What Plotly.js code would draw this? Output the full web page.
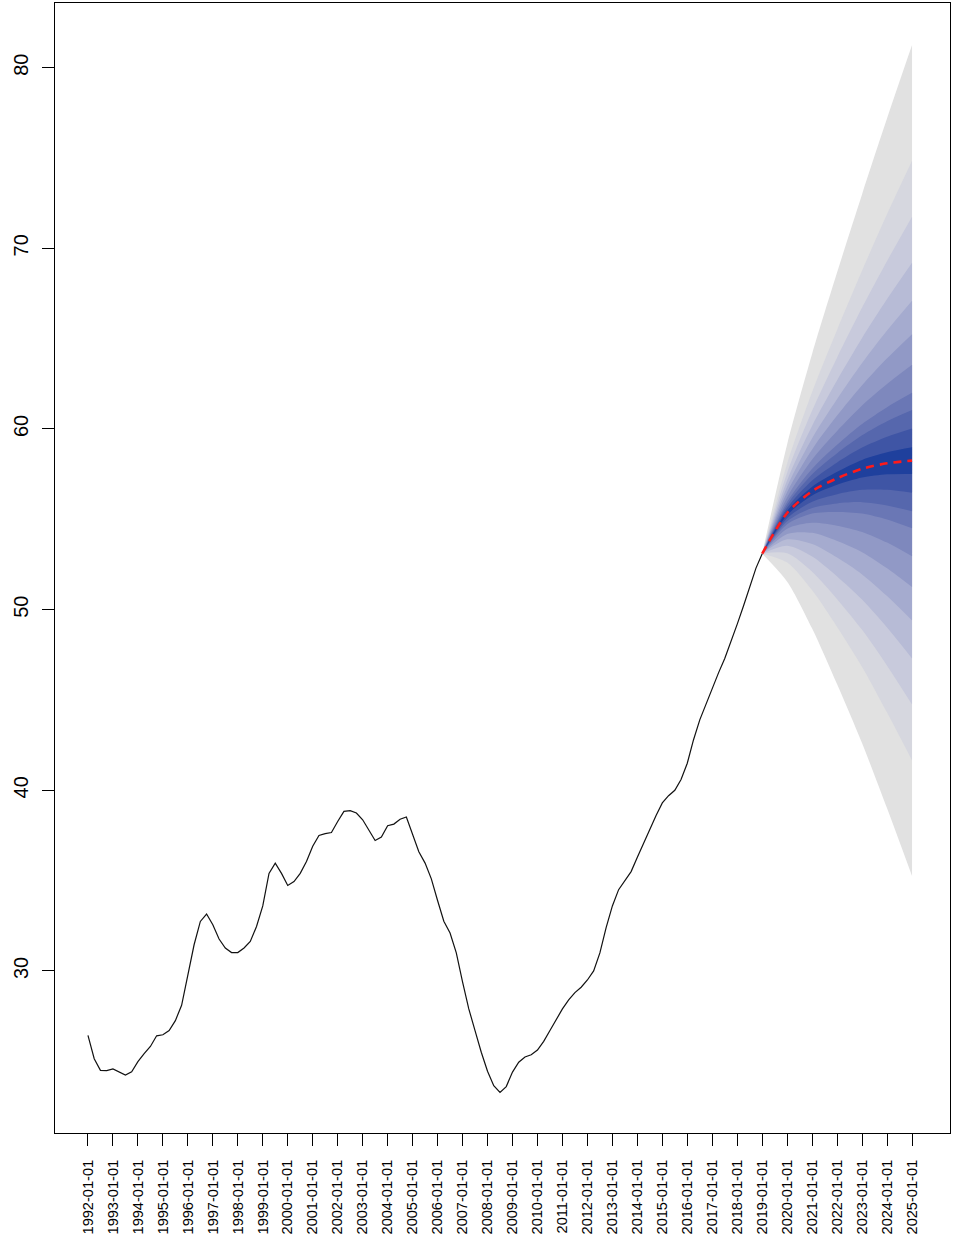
<!DOCTYPE html>
<html>
<head>
<meta charset="utf-8">
<script src="https://cdn.plot.ly/plotly-3.0.1.min.js"></script>
<style>html,body{margin:0;padding:0;background:#fff;}#chart{width:953px;height:1239px;}</style>
</head>
<body>
<div id="chart"></div>
<script>
// Quarterly history, 1992Q1 .. 2019Q1
const histStart = 1992;
const histValues = [
  26.43, 25.14, 24.50, 24.48,
  24.58, 24.40, 24.24, 24.42,
  24.98, 25.42, 25.82, 26.41,
  26.47, 26.70, 27.25, 28.10,
  29.70, 31.45, 32.74, 33.15,
  32.56, 31.77, 31.27, 31.02,
  31.02, 31.27, 31.63, 32.46,
  33.60, 35.40, 35.97, 35.40,
  34.73, 34.95, 35.40, 36.06,
  36.90, 37.50, 37.60, 37.66,
  38.27, 38.83, 38.87, 38.74,
  38.37, 37.80, 37.22, 37.41,
  38.04, 38.13, 38.40, 38.52,
  37.54, 36.60, 35.97, 35.10,
  33.90, 32.75, 32.10, 31.00,
  29.40, 27.90, 26.70, 25.50,
  24.45, 23.65, 23.28, 23.60,
  24.40, 24.95, 25.24, 25.36,
  25.62, 26.10, 26.70, 27.30,
  27.90, 28.40, 28.80, 29.10,
  29.50, 30.00, 31.00, 32.40,
  33.60, 34.50, 35.00, 35.50,
  36.30, 37.10, 37.90, 38.60,
  39.30, 39.70, 40.00, 40.60,
  41.50, 42.80, 43.90, 44.80,
  45.70, 46.50, 47.30, 48.20,
  49.20, 50.20, 51.30, 52.30,
  53.10
];

// Forecast (yearly points 2019..2025)
const fanYears = [2019, 2020, 2021, 2022, 2023, 2024, 2025];
const fanMean  = [53.10, 55.35, 56.56, 57.27, 57.80, 58.10, 58.25];

// Fan bounds, innermost (1) to outermost (11)
const fanUpper1  = [53.10, 55.47, 56.80, 57.63, 58.29, 58.71, 58.99];
const fanLower1  = [53.10, 55.23, 56.32, 56.91, 57.31, 57.49, 57.51];
const fanUpper2  = [53.10, 55.64, 57.15, 58.15, 58.97, 59.57, 60.03];
const fanLower2  = [53.10, 55.06, 55.97, 56.39, 56.63, 56.63, 56.47];
const fanUpper3  = [53.10, 55.81, 57.49, 58.66, 59.65, 60.43, 61.05];
const fanLower3  = [53.10, 54.89, 55.63, 55.88, 55.95, 55.77, 55.45];
const fanUpper4  = [53.10, 55.97, 57.80, 59.13, 60.28, 61.21, 62.00];
const fanLower4  = [53.10, 54.73, 55.32, 55.41, 55.32, 54.99, 54.50];
const fanUpper5  = [53.10, 56.22, 58.31, 59.89, 61.30, 62.49, 63.55];
const fanLower5  = [53.10, 54.48, 54.81, 54.65, 54.30, 53.71, 52.95];
const fanUpper6  = [53.10, 56.51, 58.87, 60.74, 62.42, 63.91, 65.25];
const fanLower6  = [53.10, 54.19, 54.25, 53.80, 53.18, 52.29, 51.25];
const fanUpper7  = [53.10, 56.81, 59.49, 61.66, 63.65, 65.45, 67.10];
const fanLower7  = [53.10, 53.89, 53.63, 52.88, 51.95, 50.75, 49.40];
const fanUpper8  = [53.10, 57.16, 60.18, 62.70, 65.04, 67.19, 69.20];
const fanLower8  = [53.10, 53.54, 52.94, 51.84, 50.56, 49.01, 47.30];
const fanUpper9  = [53.10, 57.58, 61.02, 63.96, 66.72, 69.30, 71.75];
const fanLower9  = [53.10, 53.12, 52.10, 50.58, 48.88, 46.90, 44.75];
const fanUpper10 = [53.10, 58.09, 62.05, 65.50, 68.77, 71.90, 74.85];
const fanLower10 = [53.10, 52.61, 51.07, 49.04, 46.83, 44.30, 41.65];
const fanUpper11 = [53.10, 59.15, 64.16, 68.67, 73.00, 77.20, 81.25];
const fanLower11 = [53.10, 51.55, 48.96, 45.87, 42.60, 39.00, 35.25];

const fanUppers = [fanUpper1, fanUpper2, fanUpper3, fanUpper4, fanUpper5, fanUpper6, fanUpper7, fanUpper8, fanUpper9, fanUpper10, fanUpper11];
const fanLowers = [fanLower1, fanLower2, fanLower3, fanLower4, fanLower5, fanLower6, fanLower7, fanLower8, fanLower9, fanLower10, fanLower11];
const fanColors = ['#1f409d', '#3f55a5', '#5667ad', '#6a77b5', '#7e88bd', '#9199c6', '#a5abcf', '#b7bbd6', '#c8cadc', '#d6d7df', '#e1e1e1'];

const tickYears = [1992,1993,1994,1995,1996,1997,1998,1999,2000,2001,2002,2003,2004,2005,2006,2007,2008,2009,2010,2011,2012,2013,2014,2015,2016,2017,2018,2019,2020,2021,2022,2023,2024,2025];
const tickLabels = tickYears.map(y => y + '-01-01');
const yTicks = [30, 40, 50, 60, 70, 80];

const histX = histValues.map((_, i) => histStart + i / 4);

const traces = [];
for (let k = fanUppers.length - 1; k >= 0; k--) {
  traces.push({x: fanYears, y: fanLowers[k], type: 'scatter', mode: 'lines',
    line: {width: 0, shape: 'spline', smoothing: 0.8}, hoverinfo: 'skip', showlegend: false});
  traces.push({x: fanYears, y: fanUppers[k], type: 'scatter', mode: 'lines',
    line: {width: 0, shape: 'spline', smoothing: 0.8}, fill: 'tonexty', fillcolor: fanColors[k],
    hoverinfo: 'skip', showlegend: false});
}
traces.push({x: histX, y: histValues, type: 'scatter', mode: 'lines',
  line: {color: '#111', width: 1.2}, showlegend: false});
traces.push({x: fanYears, y: fanMean, type: 'scatter', mode: 'lines',
  line: {color: '#ff1a1a', width: 2.6, dash: '8px,6px', shape: 'spline', smoothing: 0.8}, showlegend: false});

const font = 'Liberation Sans, Arial, Helvetica, sans-serif';
const layout = {
  width: 953, height: 1239,
  margin: {l: 55, r: 3, t: 3, b: 106},
  paper_bgcolor: '#fff', plot_bgcolor: '#fff',
  showlegend: false,
  xaxis: {
    range: [1990.68, 2026.52], tickmode: 'array', tickvals: tickYears, ticktext: tickLabels,
    tickangle: -90, ticks: 'outside', ticklen: 12, tickwidth: 1, tickcolor: '#000',
    showline: true, mirror: true, linecolor: '#000', linewidth: 1,
    showgrid: false, zeroline: false,
    tickfont: {family: font, size: 14.6, color: '#000'}, ticklabelstandoff: 8
  },
  yaxis: {
    range: [21.03, 83.58], tickmode: 'array', tickvals: yTicks,
    tickangle: -90, ticks: 'outside', ticklen: 12, tickwidth: 1, tickcolor: '#000',
    showline: true, mirror: true, linecolor: '#000', linewidth: 1,
    showgrid: false, zeroline: false,
    tickfont: {family: font, size: 20, color: '#000'}, ticklabelstandoff: 6
  }
};
Plotly.newPlot('chart', traces, layout, {displayModeBar: false, staticPlot: true});
</script>
</body>
</html>
